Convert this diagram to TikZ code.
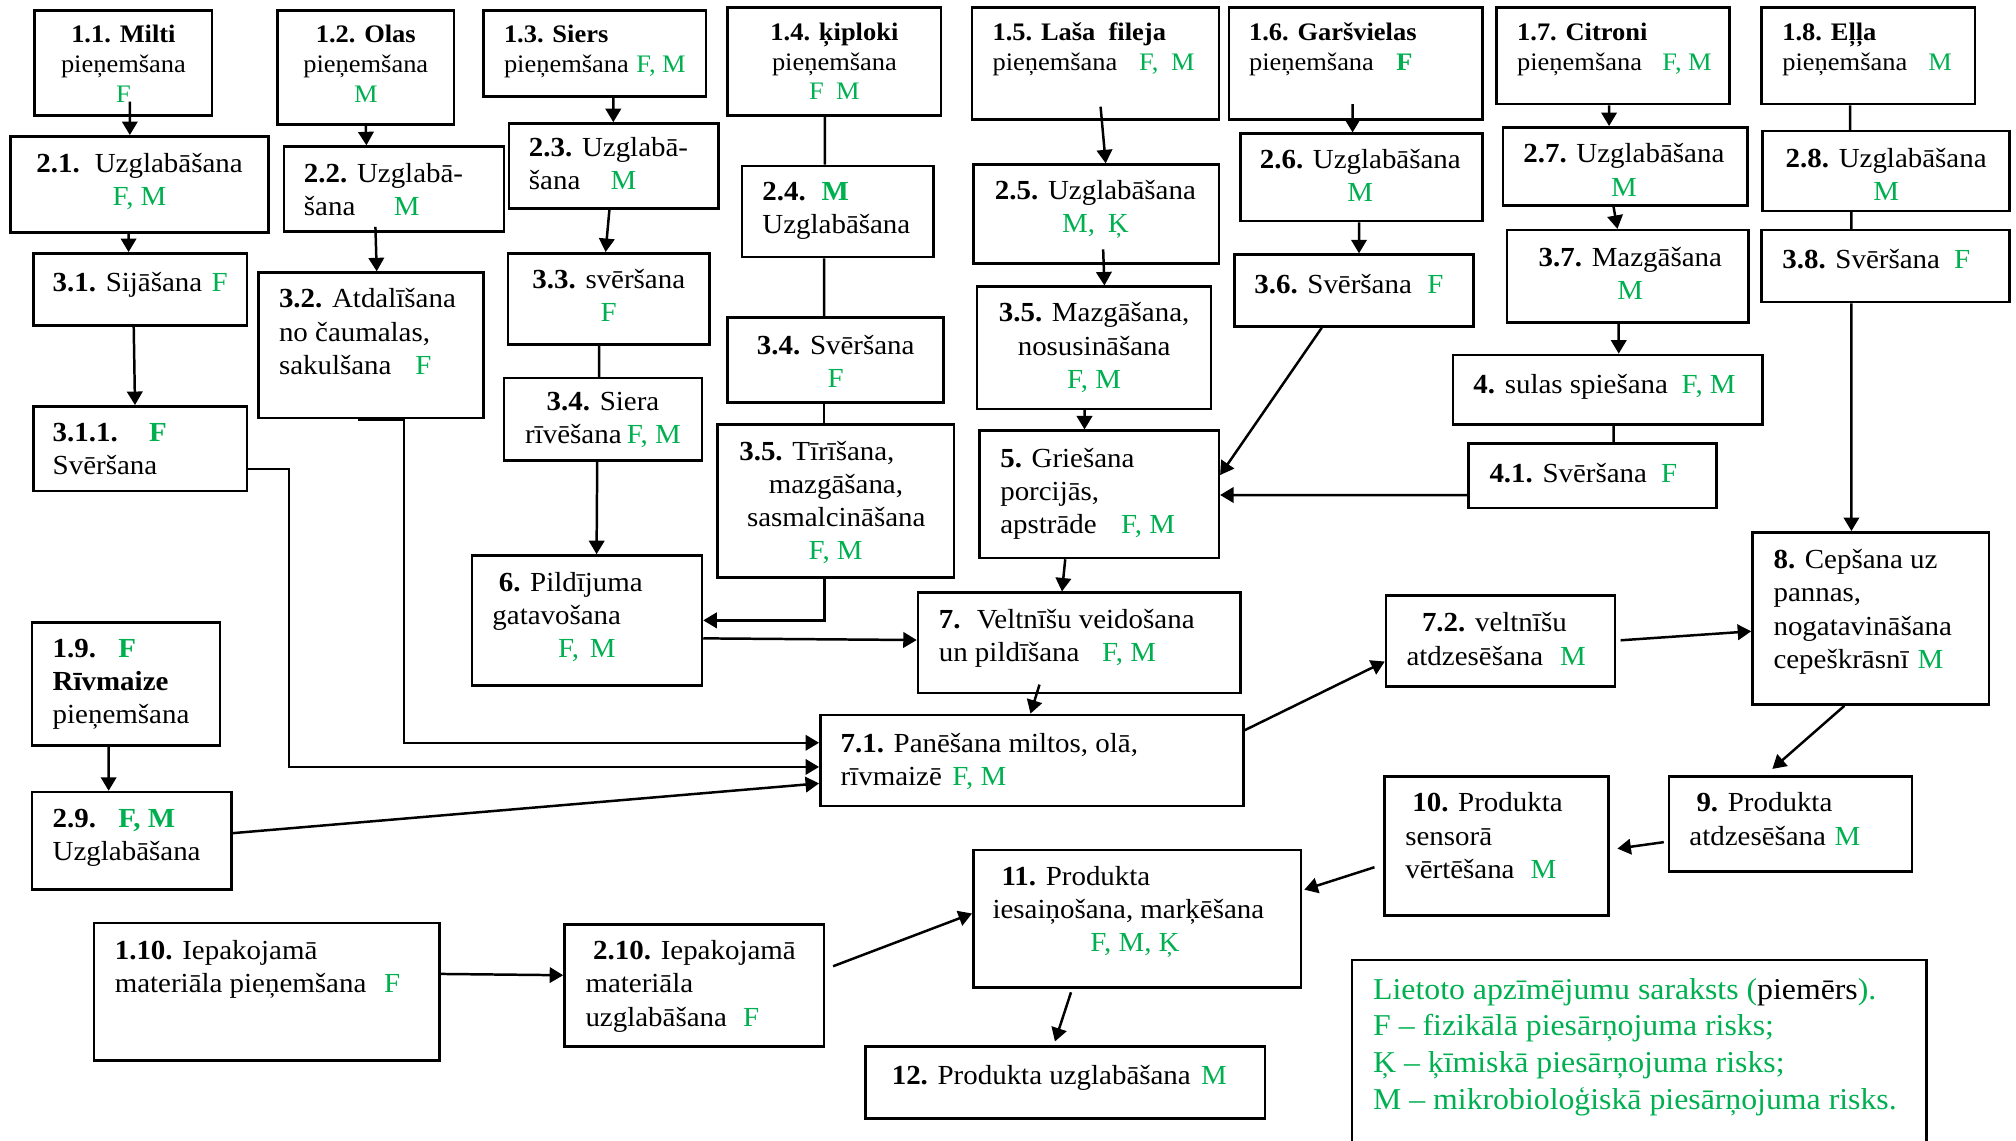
\documentclass[tikz,border=0pt]{standalone}
\usepackage{fontspec}
\setmainfont{Liberation Serif}[FakeStretch=1.05]
\usetikzlibrary{positioning,fit,calc,arrows.meta}
\definecolor{rg}{RGB}{0,176,80}
\newcommand{\rk}[1]{\textcolor{rg}{#1}}
\tikzset{
  box/.style={draw, line width=1.1pt, inner sep=0pt},
  txt/.style={inner sep=0pt, outer sep=0pt, align=left, anchor=north west,
    font=\fontsize{12.2}{14.7}\selectfont, execute at begin node={\rule{0pt}{9.7pt}}},
  txtc/.style={txt, align=center, anchor=north},
  small/.style={font=\fontsize{11.15}{13.2}\selectfont},
  arr/.style={line width=1.1pt, -{Triangle[length=2.1mm,width=2.4mm]}},
  ln/.style={line width=1.1pt},
}
\begin{document}
\begin{tikzpicture}[x=0.2mm, y=-0.2mm]
\useasboundingbox (0,0) rectangle (1568,887);

% boxes
\node[box, fit={(27,8) (165,90)}] (s11) {};
\node[box, fit={(216,8) (353,97)}] (s12) {};
\node[box, fit={(376,8) (549,75)}] (s13) {};
\node[box, fit={(566,6) (732,90)}] (s14) {};
\node[box, fit={(756,6) (948,93)}] (s15) {};
\node[box, fit={(956,6) (1153,93)}] (s16) {};
\node[box, fit={(1164,6) (1345,81)}] (s17) {};
\node[box, fit={(1370,6) (1536,81)}] (s18) {};
\node[box, fit={(25,484) (171,580)}] (s19) {};
\node[box, fit={(73,718) (342,825)}] (s110) {};
\node[box, fit={(8,106) (209,181)}] (s21) {};
\node[box, fit={(221,114) (392,180)}] (s22) {};
\node[box, fit={(396,96) (559,162)}] (s23) {};
\node[box, fit={(577,129) (726,200)}] (s24) {};
\node[box, fit={(757,128) (948,205)}] (s25) {};
\node[box, fit={(965,104) (1153,172)}] (s26) {};
\node[box, fit={(1169,99) (1359,160)}] (s27) {};
\node[box, fit={(1371,102) (1563,164)}] (s28) {};
\node[box, fit={(25,616) (180,692)}] (s29) {};
\node[box, fit={(439,719) (641,814)}] (s210) {};
\node[box, fit={(26,197) (192,253)}] (s31) {};
\node[box, fit={(26,316) (192,382)}] (s311) {};
\node[box, fit={(201,212) (376,325)}] (s32) {};
\node[box, fit={(395,197) (552,268)}] (s33) {};
\node[box, fit={(392,294) (546,358)}] (s34a) {};
\node[box, fit={(566,247) (734,313)}] (s34b) {};
\node[box, fit={(558,330) (742,449)}] (s35a) {};
\node[box, fit={(760,223) (942,318)}] (s35b) {};
\node[box, fit={(960,198) (1146,254)}] (s36) {};
\node[box, fit={(1172,179) (1360,251)}] (s37) {};
\node[box, fit={(1370,179) (1563,235)}] (s38) {};
\node[box, fit={(1130,276) (1371,330)}] (k4) {};
\node[box, fit={(1142,345) (1335,395)}] (k41) {};
\node[box, fit={(762,335) (948,434)}] (k5) {};
\node[box, fit={(367,432) (546,533)}] (k6) {};
\node[box, fit={(714,461) (965,539)}] (k7) {};
\node[box, fit={(638,556) (967,627)}] (k71) {};
\node[box, fit={(1078,463) (1256,534)}] (k72) {};
\node[box, fit={(1363,414) (1547,548)}] (k8) {};
\node[box, fit={(1298,604) (1487,678)}] (k9) {};
\node[box, fit={(1077,604) (1251,712)}] (k10) {};
\node[box, fit={(757,661) (1012,768)}] (k11) {};
\node[box, fit={(673,814) (984,870)}] (k12) {};
\node[fit={(1052,747) (1498,887)}, inner sep=0pt] (legend) {};
\draw[line width=1.1pt] (legend.south west) |- (legend.north east) -- (legend.south east);

% texts
\node[txtc, small] (t11) at (96,19.5) {\textbf{1.1. Milti}\\pieņemšana\\\rk{F}};
\node[txtc, small] (t12) at (284.5,19.5) {\textbf{1.2. Olas}\\pieņemšana\\\rk{M}};
\node[txt, small] (t13) at (392,19.5) {\textbf{1.3. Siers}\\\makebox[20.6mm][l]{pieņemšana}\rk{F, M}};
\node[txtc, small] (t14) at (649,17.7) {\textbf{1.4. ķiploki}\\pieņemšana\\\rk{F\hspace{1.9mm}M}};
\node[txt, small] (t15) at (772,17.7) {\textbf{1.5. Laša\ \ fileja}\\\makebox[22.8mm][l]{pieņemšana}\rk{F,\hspace{2mm}M}};
\node[txt, small] (t16) at (971.5,17.7) {\textbf{1.6. Garšvielas}\\\makebox[22.9mm][l]{pieņemšana}\textbf{\rk{F}}};
\node[txt, small] (t17) at (1180,17.7) {\textbf{1.7. Citroni}\\\makebox[22.6mm][l]{pieņemšana}\rk{F, M}};
\node[txt, small] (t18) at (1386.3,17.7) {\textbf{1.8. Eļļa}\\\makebox[22.7mm][l]{pieņemšana}\rk{M}};
\node[txt] (t19) at (41,496.8) {\makebox[10.2mm][l]{\textbf{1.9.}}\textbf{\rk{F}}\\\textbf{Rīvmaize}\\pieņemšana};
\node[txt] (t110) at (89.3,731.5) {\textbf{1.10.} Iepakojamā\\\makebox[41.9mm][l]{materiāla pieņemšana}\rk{F}};
\node[txtc] (t21) at (108.5,119) {\makebox[9.1mm][l]{\textbf{2.1.}}Uzglabāšana\\\rk{F, M}};
\node[txt] (t22) at (236.4,127) {\textbf{2.2.} Uzglabā-\\\makebox[14mm][l]{šana}\rk{M}};
\node[txt] (t23) at (411.4,107) {\textbf{2.3.} Uzglabā-\\\makebox[12.7mm][l]{šana}\rk{M}};
\node[txt] (t24) at (593,141.4) {\makebox[9.2mm][l]{\textbf{2.4.}}\textbf{\rk{M}}\\Uzglabāšana};
\node[txtc] (t25) at (852,140) {\textbf{2.5.} Uzglabāšana\\\rk{M,\hspace{2mm}Ķ}};
\node[txtc] (t26) at (1058,116) {\textbf{2.6.} Uzglabāšana\\\rk{M}};
\node[txtc] (t27) at (1263,111.8) {\textbf{2.7.} Uzglabāšana\\\rk{M}};
\node[txtc] (t28) at (1467,115) {\textbf{2.8.} Uzglabāšana\\\rk{M}};
\node[txt] (t29) at (41,629.6) {\makebox[10.2mm][l]{\textbf{2.9.}}\textbf{\rk{F, M}}\\Uzglabāšana};
\node[txt] (t210) at (455.4,731.5) {\hspace*{1.2mm}\textbf{2.10.} Iepakojamā\\materiāla\\\makebox[24.5mm][l]{uzglabāšana}\rk{F}};
\node[txt] (t31) at (41,210) {\makebox[24.7mm][l]{\textbf{3.1.} Sijāšana}\rk{F}};
\node[txt] (t311) at (41,328.8) {\makebox[15mm][l]{\textbf{3.1.1.}}\textbf{\rk{F}}\\Svēršana};
\node[txt] (t32) at (217,224.6) {\textbf{3.2.} Atdalīšana\\no čaumalas,\\\makebox[21.2mm][l]{sakulšana}\rk{F}};
\node[txtc] (t33) at (473.5,209.6) {\textbf{3.3.} svēršana\\\rk{F}};
\node[txtc] (t34a) at (469,305) {\textbf{3.4.} Siera\\\makebox[15.8mm][l]{rīvēšana}\rk{F, M}};
\node[txtc] (t34b) at (650,261) {\textbf{3.4.} Svēršana\\\rk{F}};
\node[txt] (t35a) at (575,343) {\textbf{3.5.} Tīrīšana,\\\hspace*{4.6mm}mazgāšana,\\\hspace*{1.2mm}sasmalcināšana\\\hspace*{10.8mm}\rk{F, M}};
\node[txtc] (t35b) at (851,235.5) {\textbf{3.5.} Mazgāšana,\\nosusināšana\\\rk{F, M}};
\node[txt] (t36) at (975.6,211) {\makebox[26.9mm][l]{\textbf{3.6.} Svēršana}\rk{F}};
\node[txtc] (t37) at (1268,192) {\textbf{3.7.} Mazgāšana\\\rk{M}};
\node[txt] (t38) at (1386.3,192) {\makebox[26.7mm][l]{\textbf{3.8.} Svēršana}\rk{F}};
\node[txt] (tk4) at (1146,288.7) {\makebox[32.4mm][l]{\textbf{4.} sulas spiešana}\rk{F, M}};
\node[txt] (tk41) at (1158.5,358.6) {\makebox[26.7mm][l]{\textbf{4.1.} Svēršana}\rk{F}};
\node[txt] (tk5) at (778,348.3) {\textbf{5.} Griešana\\porcijās,\\\makebox[18.8mm][l]{apstrāde}\rk{F, M}};
\node[txt] (tk6) at (383,445) {\hspace*{1mm}\textbf{6.} Pildījuma\\gatavošana\\\hspace*{10.2mm}\rk{F,\hspace{1.7mm}M}};
\node[txt] (tk7) at (730.2,474) {\makebox[5.9mm][l]{\textbf{7.}}Veltnīšu veidošana\\\makebox[25.4mm][l]{un pildīšana}\rk{F, M}};
\node[txt] (tk71) at (653.8,570) {\textbf{7.1.} Panēšana miltos, olā,\\\makebox[17.4mm][l]{rīvmaizē}\rk{F, M}};
\node[txt] (tk72) at (1094,476.6) {\hspace*{2.4mm}\textbf{7.2.} veltnīšu\\\makebox[23.9mm][l]{atdzesēšana}\rk{M}};
\node[txt] (tk8) at (1379.4,427.3) {\textbf{8.} Cepšana uz\\pannas,\\nogatavināšana\\\makebox[22.4mm][l]{cepeškrāsnī}\rk{M}};
\node[txt] (tk9) at (1314,616.6) {\hspace*{1.1mm}\textbf{9.} Produkta\\\makebox[22.6mm][l]{atdzesēšana}\rk{M}};
\node[txt] (tk10) at (1093,616.6) {\hspace*{1.1mm}\textbf{10.} Produkta\\sensorā\\\makebox[19.5mm][l]{vērtēšana}\rk{M}};
\node[txt] (tk11) at (772,673.6) {\hspace*{1.4mm}\textbf{11.} Produkta\\iesaiņošana, marķēšana\\\hspace*{15.2mm}\rk{F, M, Ķ}};
\node[txt] (tk12) at (693.6,826.7) {\makebox[48.1mm][l]{\textbf{12.} Produkta uzglabāšana}\rk{M}};
\node[txt, font=\fontsize{13.4}{16.2}\selectfont, text=rg] (tleg) at (1068,760.8)
  {Lietoto apzīmējumu saraksts (\textcolor{black}{piemērs}).\\F – fizikālā piesārņojuma risks;\\Ķ – ķīmiskā piesārņojuma risks;\\M – mikrobioloģiskā piesārņojuma risks.};

% connectors
\draw[arr] ([shift={(1mm,2.4mm)}]s11.south) -- ([xshift=-1.5mm]s21.north);
\draw[arr] (s12.south) -- ([xshift=-4.3mm]s22.north);
\draw[arr] ([xshift=2.9mm]s13.south) -- ([xshift=-0.1mm]s23.north);
\draw[arr] ([xshift=-1.7mm]s21.south) -- ([xshift=-1.8mm]s31.north);
\draw[arr] ([shift={(-2.9mm,0.9mm)}]s22.south) -- ([xshift=0.9mm]s32.north);
\draw[arr] ([xshift=-0.7mm]s23.south) -- ([xshift=-0.5mm]s33.north);
\draw[ln] ([xshift=-1.5mm]s33.south) -- ([xshift=-0.6mm]s34a.north);
\draw[arr] ([xshift=-1mm]s31.south) -- ([xshift=-0.8mm]s311.north);
\draw[arr] ([xshift=-0.9mm]s34a.south) -- ([xshift=1.5mm]k6.north);
\draw[line width=1.8pt] ([xshift=-2mm]s32.south) -- ([xshift=5.3mm]s32.south);
\draw[arr] ([xshift=5.16mm]s32.south) |- ([yshift=2.76mm]k71.west);
\draw[arr] ([yshift=-3.16mm]s311.east) -- ++(32,0) |- ([yshift=-1mm]k71.west);
\draw[arr] ([yshift=1.2mm]s29.east) -- ([yshift=-3.56mm]k71.west);
\draw[arr] ([xshift=-2.7mm]s19.south) -- ([xshift=-3.6mm]s29.north);
\draw[ln] ([xshift=-1.5mm]s14.south) -- ([xshift=-2mm]s24.north);
\draw[ln] ([xshift=-2.1mm]s24.south) -- ([xshift=-1.8mm]s34b.north);
\draw[ln] ([xshift=-1.8mm]s34b.south) -- ([xshift=-1.8mm]s35a.north);
\draw[arr] ([xshift=-1.75mm]s35a.south) |- (k6.east);
\draw[arr] ([yshift=-2.8mm]k6.east) -- ([yshift=0.44mm]k7.west);
\draw[arr] ([shift={(0.8mm,2.2mm)}]s15.south) -- ([xshift=1.5mm]s25.north);
\draw[arr] ([shift={(1.1mm,2.4mm)}]s25.south) -- ([xshift=1.6mm]s35b.north);
\draw[arr] ([xshift=-1.5mm]s35b.south) -- ([xshift=-2.3mm]k5.north);
\draw[arr] ([shift={(-0.5mm,2.6mm)}]s16.south) -- ([xshift=-1.4mm]s26.north);
\draw[arr] ([xshift=-0.4mm]s26.south) -- ([xshift=0.8mm]s36.north);
\draw[arr] ([xshift=-5mm]s36.south) -- ([yshift=3mm]k5.east);
\draw[arr] ([yshift=-3mm]k41.west) -- ([yshift=-0.1mm]k5.east);
\draw[arr] ([xshift=-0.6mm]s17.south) -- ([xshift=-2.5mm]s27.north);
\draw[arr] ([xshift=-1.8mm]s27.south) -- ([xshift=-1.6mm]s37.north);
\draw[arr] ([xshift=-1.4mm]s37.south) -- ([xshift=1.7mm]k4.north);
\draw[ln] ([xshift=0.9mm]k4.south) -- ([xshift=3.3mm]k41.north);
\draw[ln] ([xshift=-2.8mm]s18.south) -- ([xshift=-5.6mm]s28.north);
\draw[ln] ([xshift=-5.4mm]s28.south) -- ([xshift=-5.3mm]s38.north);
\draw[arr] ([xshift=-5.3mm]s38.south) -- ([xshift=-3mm]k8.north);
\draw[arr] ([xshift=-5.3mm]k5.south) -- ([xshift=-2.7mm]k7.north);
\draw[arr] ([shift={(-6.2mm,1.5mm)}]k7.south) -- ([xshift=-0.2mm]k71.north);
\draw[arr] ([yshift=4.7mm]k71.east) -- ([yshift=-3.2mm]k72.west);
\draw[arr] ([shift={(0.7mm,0.1mm)}]k72.east) -- ([yshift=-2mm]k8.west);
\draw[arr] ([xshift=-4.1mm]k8.south) -- ([shift={(-2.8mm,1mm)}]k9.north);
\draw[arr] ([shift={(-0.6mm,-2.8mm)}]k9.west) -- ([shift={(1.2mm,-0.4mm)}]k10.east);
\draw[arr] ([shift={(-1.4mm,-3.3mm)}]k10.west) -- ([shift={(0.3mm,4.5mm)}]k11.east);
\draw[arr] ([shift={(-10.3mm,-0.56mm)}]k11.south) -- ([shift={(-1.6mm,0.6mm)}]k12.north);
\draw[arr] ([yshift=2.8mm]s110.east) -- ([yshift=1.6mm]s210.west);
\draw[arr] ([shift={(1.2mm,3mm)}]s210.east) -- ([yshift=0.8mm]k11.west);
\end{tikzpicture}
\end{document}
